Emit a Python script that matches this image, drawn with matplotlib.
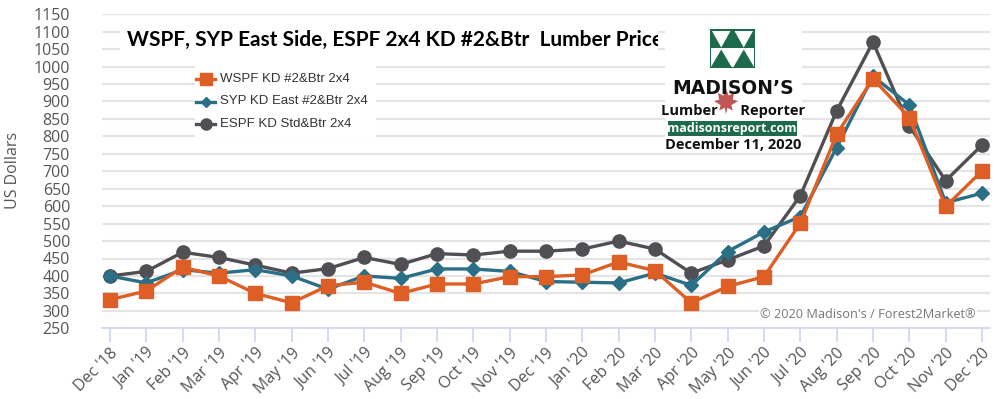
import matplotlib
matplotlib.use('Agg')
import matplotlib.pyplot as plt
from matplotlib.patches import Rectangle, Polygon
from matplotlib.lines import Line2D

months = ["Dec '18", "Jan '19", "Feb '19", "Mar '19", "Apr '19", "May '19", "Jun '19",
          "Jul '19", "Aug '19", "Sep '19", "Oct '19", "Nov '19", "Dec '19", "Jan '20",
          "Feb '20", "Mar '20", "Apr '20", "May '20", "Jun '20", "Jul '20", "Aug '20",
          "Sep '20", "Oct '20", "Nov '20", "Dec '20"]

wspf = [332, 357, 425, 400, 350, 323, 372, 382, 350, 377, 377, 398, 398, 403,
        440, 415, 323, 370, 398, 551, 806, 965, 854, 599, 701]
syp = [400, 380, 418, 408, 418, 400, 362, 400, 393, 420, 420, 413, 384, 382,
       380, 408, 373, 470, 526, 570, 768, 972, 890, 610, 637]
espf = [400, 413, 468, 453, 431, 408, 421, 453, 433, 464, 460, 471, 471, 477,
        500, 477, 408, 446, 486, 630, 873, 1070, 830, 673, 775]

series_names = ['WSPF KD #2&Btr 2x4', 'SYP KD East #2&Btr 2x4', 'ESPF KD Std&Btr 2x4']

W, H = 1000, 399
fig = plt.figure(figsize=(W / 100, H / 100), dpi=100)
fig.patch.set_facecolor('white')


def fx(x):
    return x / W


def fy(y):
    return 1 - y / H


ax = fig.add_axes([fx(102), fy(328.3), fx(990) - fx(102), fy(14.2) - fy(328.3)])
ax.set_xlim(-0.22, 24.22)
ax.set_ylim(250, 1150)

orange = '#dd5f26'
teal = '#2b6f86'
gray = '#4f4f54'

x = list(range(len(months)))
ax.plot(x, espf, color=gray, lw=2.4, marker='o', ms=9.5, zorder=3)
ax.plot(x, syp, color=teal, lw=2.4, marker='D', ms=7, zorder=4)
ax.plot(x, wspf, color=orange, lw=2.4, marker='s', ms=10, zorder=5)

ax.set_yticks(range(250, 1151, 50))
ax.grid(axis='y', color='#e4e4e4', lw=1.6)
ax.set_axisbelow(True)
for side in ['top', 'right', 'left']:
    ax.spines[side].set_visible(False)
ax.spines['bottom'].set_color('#ccd6eb')
ax.spines['bottom'].set_linewidth(1.2)
ax.tick_params(axis='y', length=0, pad=23, labelsize=11.5, labelcolor='#555555')
ax.set_xticks(x)
ax.set_xticklabels(months, rotation=45, ha='right', rotation_mode='anchor',
                   fontsize=11.5, color='#555555', family='Open Sans')
ax.tick_params(axis='x', length=10, width=1.2, color='#ccd6eb', pad=2)
for lab in ax.get_yticklabels():
    lab.set_family('Open Sans')
    lab.set_horizontalalignment('right')
ax.set_ylabel('US Dollars', fontsize=11.5, color='#555555', family='Open Sans')
ax.yaxis.set_label_coords(-0.091, 0.504)

# title box (covers gridlines), title clipped at right edge
title_box = Rectangle((fx(120), fy(57)), fx(658) - fx(120), fy(22) - fy(57),
                      transform=fig.transFigure, facecolor='white', edgecolor='none', zorder=6)
fig.patches.append(title_box)
title = fig.text(fx(127), fy(40), 'WSPF, SYP East Side, ESPF 2x4 KD #2&Btr  Lumber Price',
                 fontsize=15, fontweight='bold', family='Lato', color='black',
                 va='center', ha='left', zorder=7)
title.set_clip_path(title_box)

# legend box
fig.patches.append(Rectangle((fx(195), fy(137)), fx(376) - fx(195), fy(61) - fy(137),
                             transform=fig.transFigure, facecolor='white', edgecolor='none', zorder=6))
handles = [Line2D([], [], color=orange, lw=2.4, marker='s', ms=8),
           Line2D([], [], color=teal, lw=2.4, marker='D', ms=5.5),
           Line2D([], [], color=gray, lw=2.4, marker='o', ms=8)]
for i, (h, name) in enumerate(zip(handles, series_names)):
    yy = 79 + i * 22.5
    fig.add_artist(Line2D([fx(196), fx(215)], [fy(yy), fy(yy)], transform=fig.transFigure,
                          color=h.get_color(), lw=2.4, marker=None, zorder=7))
    fig.add_artist(Line2D([fx(205.5)], [fy(yy)], transform=fig.transFigure,
                          color=h.get_color(), marker=h.get_marker(), ms=h.get_markersize(), zorder=8))
    fig.text(fx(220), fy(yy), name, fontsize=9.5, family='Liberation Sans', color='#333333',
             va='center', ha='left', zorder=8)

# logo block
fig.patches.append(Rectangle((fx(665), fy(152)), fx(802) - fx(665), fy(24) - fy(152),
                             transform=fig.transFigure, facecolor='white', edgecolor='none', zorder=6))
green = '#1d6b4a'
lx0, lx1, ly0, ly1 = 710, 755, 29, 68
lm = (ly0 + ly1) / 2
fig.patches.append(Rectangle((fx(lx0), fy(ly1)), fx(lx1) - fx(lx0), fy(ly0) - fy(ly1),
                             transform=fig.transFigure, facecolor=green, edgecolor='none', zorder=7))
fig.patches.append(Rectangle((fx(lx0 + 1), fy(ly1 - 1)), fx(lx1 - 1) - fx(lx0 + 1), fy(lm) - fy(ly1 - 1),
                             transform=fig.transFigure, facecolor='white', edgecolor='none', zorder=7))
half = (lx1 - lx0) / 2
for k in range(2):
    a = lx0 + k * half
    fig.patches.append(Polygon([(fx(a + 2), fy(ly0 + 2)), (fx(a + half - 2), fy(ly0 + 2)),
                                (fx(a + half / 2), fy(lm - 1))],
                               transform=fig.transFigure, facecolor='white', edgecolor='none', zorder=8))
    fig.patches.append(Polygon([(fx(a + 1), fy(ly1 - 1)), (fx(a + half - 1), fy(ly1 - 1)),
                                (fx(a + half / 2), fy(lm + 1))],
                               transform=fig.transFigure, facecolor=green, edgecolor='none', zorder=8))

# maple leaf (rough)
leaf = [(0, -9), (2, -4), (6, -6), (5, -1), (9, 0), (4, 3), (5, 7), (1, 5), (0, 10),
        (-1, 5), (-5, 7), (-4, 3), (-9, 0), (-5, -1), (-6, -6), (-2, -4)]
cx, cy, sc = 726, 101, 1.35
fig.patches.append(Polygon([(fx(cx + sc * dx), fy(cy + sc * dy)) for dx, dy in leaf],
                           transform=fig.transFigure, facecolor='#b02a2a', edgecolor='none',
                           alpha=0.8, zorder=8))
fig.text(fx(733), fy(88), 'MADISON\u2019S', fontsize=13.5, fontweight='bold', family='DejaVu Sans',
         color='#111111', ha='center', va='center', zorder=9)
fig.text(fx(733), fy(111), 'Lumber      Reporter', fontsize=10.5, fontweight='bold', family='Open Sans',
         color='#111111', ha='center', va='center', zorder=9)
fig.patches.append(Rectangle((fx(668), fy(136)), fx(797) - fx(668), fy(121) - fy(136),
                             transform=fig.transFigure, facecolor=green, edgecolor='none', zorder=8))
fig.text(fx(732), fy(128.5), 'madisonsreport.com', fontsize=9, fontweight='bold', family='Open Sans',
         color='white', ha='center', va='center', zorder=9)
fig.text(fx(733), fy(145), 'December 11, 2020', fontsize=10.5, fontweight='bold', family='Open Sans',
         color='#111111', ha='center', va='center', zorder=9)

# copyright
fig.text(fx(760), fy(314), '\u00a9 2020 Madison\'s / Forest2Market\u00ae', fontsize=9.2,
         family='Open Sans', color='#777777', ha='left', va='center', zorder=9,
         bbox=dict(facecolor='white', edgecolor='none', pad=1))

fig.savefig('out.png', dpi=100)
